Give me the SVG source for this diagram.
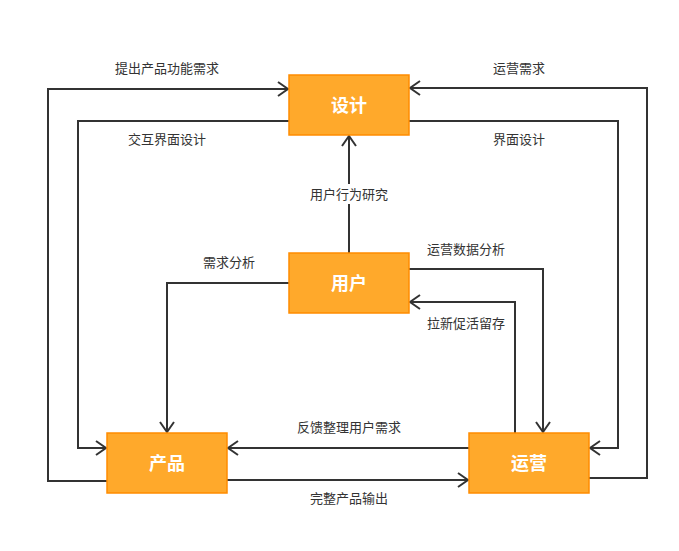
<svg xmlns="http://www.w3.org/2000/svg" width="679" height="551" viewBox="0 0 679 551">
<defs>
<marker id="arr" viewBox="0 0 14 16" refX="12" refY="8" markerWidth="14" markerHeight="16" markerUnits="userSpaceOnUse" orient="auto">
<path d="M2,1 L12,8 L2,15" fill="none" stroke="#333333" stroke-width="2"/>
</marker>
<style>
.node rect{fill:#FFA92B;stroke:#FF8C00;stroke-width:1.5}
.node text{fill:#ffffff;font-family:"Noto Sans CJK SC","Noto Sans",sans-serif;font-size:18px;font-weight:bold;text-anchor:middle;dominant-baseline:central}
.edge{fill:none;stroke:#333333;stroke-width:2}
.arrowed{marker-end:url(#arr)}
.lbl{fill:#333333;font-family:"Noto Sans CJK SC","Noto Sans",sans-serif;font-size:13px;text-anchor:middle;dominant-baseline:central}
</style>
</defs>
<rect width="679" height="551" fill="#ffffff"/>
<g id="connectors">
<path class="edge arrowed" d="M107,481 H48 V89 H288"/>
<path class="edge arrowed" d="M289,121 H78 V448 H106"/>
<path class="edge arrowed" d="M589,478 H647 V88 H410"/>
<path class="edge arrowed" d="M409,121 H618 V448 H590"/>
<path class="edge arrowed" d="M349,253 V136"/>
<path class="edge arrowed" d="M289,283 H167 V432"/>
<path class="edge arrowed" d="M409,269 H543 V432"/>
<path class="edge arrowed" d="M515,433 V302 H410"/>
<path class="edge arrowed" d="M469,448 H228"/>
<path class="edge arrowed" d="M227,480 H468"/>
<rect x="307" y="184" width="84" height="20" fill="#ffffff"/>
<text class="lbl" x="167" y="67.5">提出产品功能需求</text>
<text class="lbl" x="167" y="138.5">交互界面设计</text>
<text class="lbl" x="519" y="67.5">运营需求</text>
<text class="lbl" x="519" y="138.5">界面设计</text>
<text class="lbl" x="349" y="193.5">用户行为研究</text>
<text class="lbl" x="229" y="261.5">需求分析</text>
<text class="lbl" x="466" y="248.5">运营数据分析</text>
<text class="lbl" x="466" y="322.5">拉新促活留存</text>
<text class="lbl" x="349" y="426.5">反馈整理用户需求</text>
<text class="lbl" x="349" y="497.5">完整产品输出</text>
</g>
<g id="node-design" class="node"><rect x="289" y="75" width="120" height="60"/><text x="349" y="103.5">设计</text></g>
<g id="node-user" class="node"><rect x="289" y="253" width="120" height="60"/><text x="349" y="281.5">用户</text></g>
<g id="node-product" class="node"><rect x="107" y="433" width="120" height="60"/><text x="167" y="461.5">产品</text></g>
<g id="node-ops" class="node"><rect x="469" y="433" width="120" height="60"/><text x="529" y="461.5">运营</text></g>
</svg>
